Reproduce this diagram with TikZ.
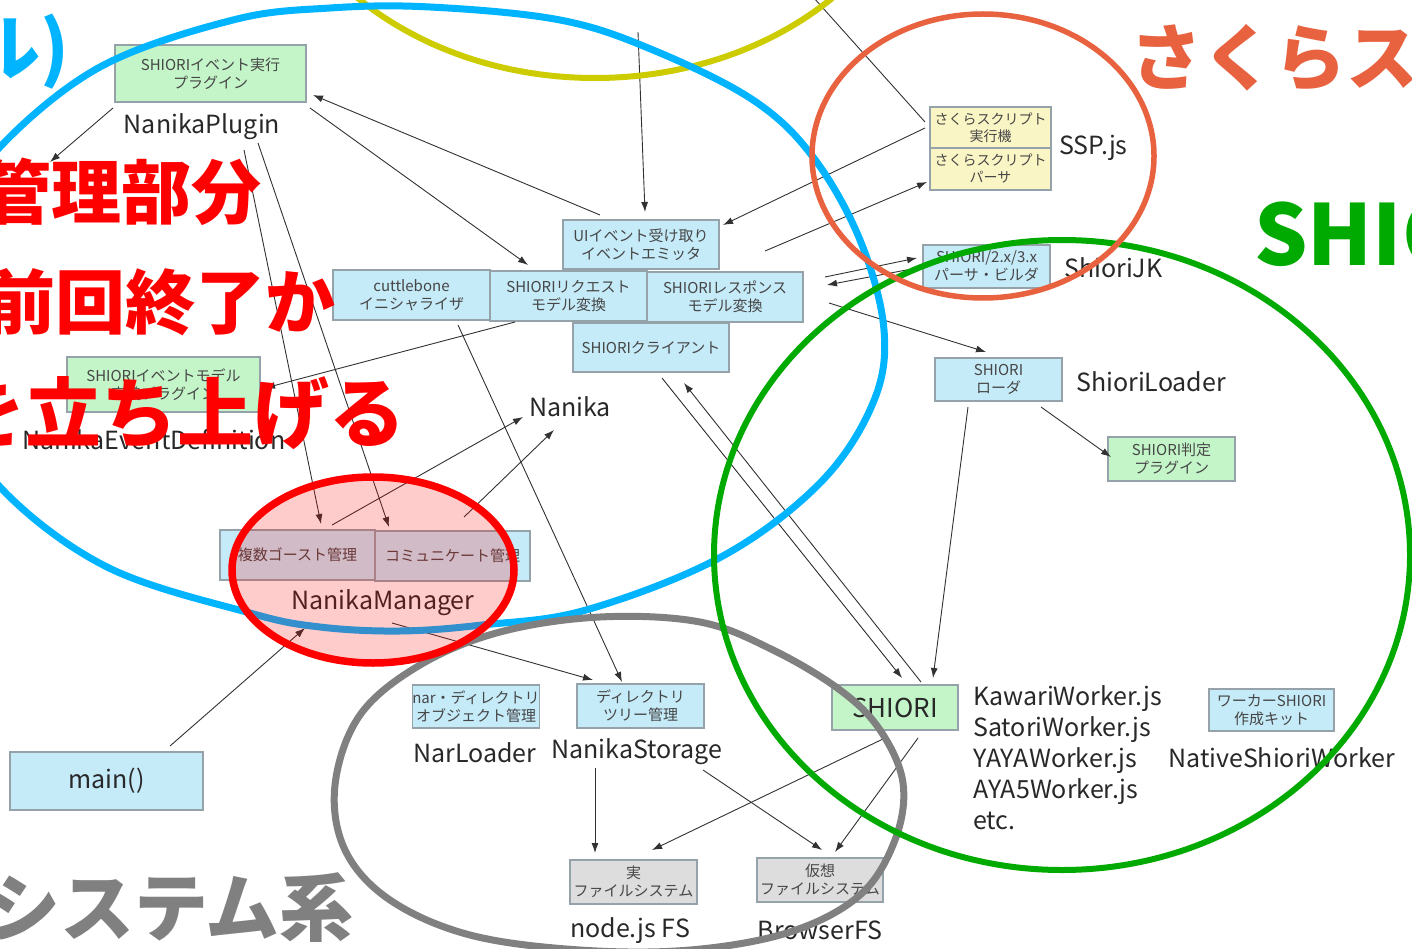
\documentclass[tikz,border=0pt]{standalone}
\usepackage{fontspec}
\setmainfont{Noto Sans CJK JP}
\usetikzlibrary{arrows.meta}
\definecolor{boxblue}{RGB}{197,234,248}
\definecolor{boxgreen}{RGB}{196,245,200}
\definecolor{boxyellow}{RGB}{250,245,197}
\definecolor{boxgray}{RGB}{221,221,221}
\definecolor{boxline}{RGB}{150,162,170}
\definecolor{boxtext}{RGB}{70,70,70}
\definecolor{labeltext}{RGB}{40,40,40}
\definecolor{linec}{RGB}{50,50,50}
\definecolor{ellblue}{RGB}{0,180,255}
\definecolor{ellyellow}{RGB}{204,204,0}
\definecolor{ellorange}{RGB}{232,98,64}
\definecolor{ellgreen}{RGB}{0,170,0}
\definecolor{ellgray}{RGB}{128,128,128}
\definecolor{ellred}{RGB}{255,0,0}
\newcommand\boxfont{\fontsize{15}{18}\selectfont}
\newcommand\sspfont{\fontsize{14}{17}\selectfont}
\newcommand\lblfont{\fontsize{25}{30}\selectfont}
\newcommand\bigtxt[1]{\fontsize{#1}{#1}\selectfont\bfseries}
\begin{document}
\begin{tikzpicture}[x=1pt,y=-1pt,
  bx/.style={draw=boxline, line width=1.3pt, fill=boxblue, inner sep=0pt, align=center, text=boxtext, font=\boxfont},
  gbx/.style={bx, fill=boxgreen},
  ybx/.style={bx, fill=boxyellow, font=\sspfont},
  fbx/.style={bx, fill=boxgray},
  lbl/.style={inner sep=0pt, text=labeltext, font=\lblfont},
  conn/.style={draw=linec, line width=0.9pt},
  arr/.style={conn, -{Latex[length=10pt,width=7pt]}},
  big/.style={inner sep=0pt}
]
\path[use as bounding box] (0,0) rectangle (1412,949);
\clip (0,0) rectangle (1412,949);
\fill[white] (0,0) rectangle (1412,949);

% ---------- boxes ----------
\node[gbx, minimum width=191pt, minimum height=57pt] (plug) at (210.5,73.5) {SHIORIイベント実行\\プラグイン};
\node[lbl] (plugl) at (202,127) {NanikaPlugin};

\node[bx, minimum width=156pt, minimum height=49pt] (ui) at (641,244.5) {UIイベント受け取り\\イベントエミッタ};
\node[bx, minimum width=157pt, minimum height=50pt] (cuttle) at (411.5,295) {cuttlebone\\イニシャライザ};
\node[bx, minimum width=157pt, minimum height=50pt] (req) at (568.5,296) {SHIORIリクエスト\\モデル変換};
\node[bx, minimum width=156pt, minimum height=50pt] (resp) at (725,297) {SHIORIレスポンス\\モデル変換};
\node[bx, minimum width=156pt, minimum height=49pt] (client) at (651,347.5) {SHIORIクライアント};
\node[lbl] (nanika) at (570,407) {Nanika};

\node[gbx, minimum width=193pt, minimum height=55pt] (evdef) at (163.5,384.5) {SHIORIイベントモデル\\定義プラグイン};
\node[lbl] (evdefl) at (154,440) {NanikaEventDefinition};

\node[bx, minimum width=155pt, minimum height=50pt] (ghost) at (297.5,555) {複数ゴースト管理};
\node[bx, minimum width=155pt, minimum height=50pt] (comm) at (452.5,556) {コミュニケート管理};
\node[lbl] (manager) at (383,603) {NanikaManager};

\node[bx, minimum width=193pt, minimum height=58pt, font=\lblfont, text=labeltext] (main) at (106.5,781) {main()};

\node[bx, minimum width=124pt, minimum height=43pt] (nar) at (476,706.5) {nar・ディレクトリ\\オブジェクト管理};
\node[lbl] (narl) at (475,753) {NarLoader};
\node[bx, minimum width=127pt, minimum height=44pt] (tree) at (640.5,706) {ディレクトリ\\ツリー管理};
\node[lbl] (storage) at (637,752) {NanikaStorage};

\node[fbx, minimum width=127pt, minimum height=44pt] (realfs) at (633.5,882) {実\\ファイルシステム};
\node[lbl] (nodefs) at (630,931) {node.js FS};
\node[fbx, minimum width=126pt, minimum height=44pt] (virtfs) at (820,880) {仮想\\ファイルシステム};
\node[lbl] (bfs) at (820,930) {BrowserFS};

\node[gbx, minimum width=126pt, minimum height=45pt, font=\fontsize{26}{30}\selectfont, text=labeltext] (shiori) at (895,707.5) {SHIORI};
\node[lbl, anchor=west, align=left, font=\fontsize{25}{31}\selectfont] (workers) at (973,758) {KawariWorker.js\\SatoriWorker.js\\YAYAWorker.js\\AYA5Worker.js\\etc.};
\node[bx, minimum width=125pt, minimum height=42pt] (kit) at (1271.5,710) {ワーカーSHIORI\\作成キット};
\node[lbl] (native) at (1282,758) {NativeShioriWorker};

\node[bx, minimum width=127pt, minimum height=43pt] (loader) at (998.5,379.5) {SHIORI\\ローダ};
\node[lbl, anchor=west] (loaderl) at (1076,382) {ShioriLoader};
\node[gbx, minimum width=127pt, minimum height=44pt] (judge) at (1171.5,459) {SHIORI判定\\プラグイン};

\node[bx, minimum width=127pt, minimum height=43pt] (jk) at (986.5,266.5) {SHIORI/2.x/3.x\\パーサ・ビルダ};
\node[lbl, anchor=west] (jkl) at (1064,268) {ShioriJK};

\node[ybx, minimum width=121pt, minimum height=41pt] (sspexec) at (990.5,127.5) {さくらスクリプト\\実行機};
\node[ybx, minimum width=121pt, minimum height=42pt] (ssppars) at (990.5,169) {さくらスクリプト\\パーサ};
\node[lbl, anchor=west] (sspl) at (1059,148) {SSP.js};

% ---------- connector end points ----------
\coordinate (hidden) at (50,162);
\coordinate (topsrc) at (638,32);
\coordinate (topsrcb) at (805,-12);

% ---------- connectors ----------
\draw[arr] (113,108) -- (hidden);
\draw[arr] (600,215) -- (313,95);
\draw[arr] (310,108) -- (528,265);
\draw[arr] (topsrc) -- (645,212);
\draw[arr] (925,128) -- (723,225);
\draw[arr] (765,251) -- (927,182);
\draw[conn] (topsrcb) -- (925,122);
\draw[arr] (825,277) -- (917,258);
\draw[arr] (917,268) -- (827,285);
\draw[arr] (829,303) -- (986,352);
\draw[arr] (515,322) -- (265,388);
\draw[arr] (458,325) -- (622,682);
\draw[arr] (244,150) -- (321,524);
\draw[arr] (258,143) -- (389,527);
\draw[arr] (332,525) -- (523,417);
\draw[arr] (464,517) -- (554,430);
\draw[arr] (392,623) -- (593,680);
\draw[arr] (170,746) -- (305,628);
\draw[arr] (595,768) -- (595,853);
\draw[arr] (703,770) -- (822,850);
\draw[arr] (885,738) -- (652,850);
\draw[arr] (918,738) -- (835,852);
\draw[arr] (968,407) -- (933,678);
\draw[arr] (1041,407) -- (1111,457);
\draw[arr] (662,378) -- (902,678);
\draw[arr] (921,682) -- (684,383);

% ---------- group outlines ----------
\draw[ellyellow, line width=6pt] (595,-192) ellipse [x radius=334pt, y radius=270pt];
\draw[ellblue, line width=7pt] plot[smooth cycle, tension=0.6] coordinates {
  (430,7) (560,20) (653,50) (753,100) (813,157) (860,240) (884,330) (873,403)
  (820,483) (721,557) (586,610) (482,625) (400,631) (320,627) (250,613) (107,567)
  (0,487) (-50,400) (-60,300) (-35,210) (0,147) (100,67) (233,20) (330,8)};
\draw[ellgray, line width=7pt] plot[smooth cycle, tension=0.6] coordinates {
  (600,617) (700,622) (773,650) (840,690) (880,730) (903,783) (895,840) (860,895)
  (790,932) (690,950) (580,950) (470,935) (390,900) (345,850) (335,785) (360,715)
  (420,665) (500,632)};
\draw[ellgreen, line width=6pt] (1062,555) ellipse [x radius=348pt, y radius=315pt];
\draw[ellorange, line width=5.5pt] (983,156) ellipse [x radius=171pt, y radius=142pt];
\draw[ellred, line width=7.5pt, fill=ellred, fill opacity=0.2] (373,570) ellipse [x radius=141pt, y radius=93pt];

% ---------- overlay captions ----------
\node[big, anchor=east, text=ellblue, font=\bigtxt{72}] (capblue) at (70,52) {ル)};
\node[big, anchor=east, text=ellred, font=\bigtxt{70}] (capred1) at (262,192) {管理部分};
\node[big, anchor=east, text=ellred, font=\bigtxt{70}] (capred2) at (336,302) {前回終了か};
\node[big, anchor=east, text=ellred, font=\bigtxt{76}] (capred3) at (406,413) {を立ち上げる};
\node[big, anchor=east, text=ellgray, font=\bigtxt{74}] (capgray) at (354,908) {システム系};
\node[big, anchor=west, text=ellorange, font=\bigtxt{72}] (caporange) at (1130,58) {さくらス};
\node[big, anchor=west, text=ellgreen, font=\bigtxt{84}] (capgreen) at (1254,234) {SHIO};
\end{tikzpicture}
\end{document}
